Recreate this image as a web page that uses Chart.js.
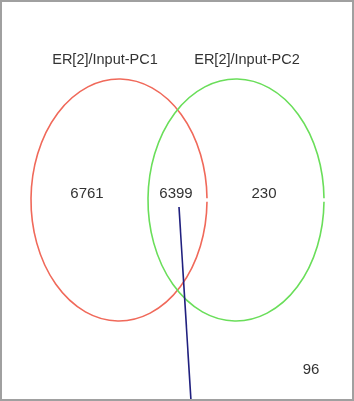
<!DOCTYPE html>
<html>
<head>
<meta charset="utf-8">
<script src="https://cdn.jsdelivr.net/npm/chart.js@4"></script>
<style>
  html, body { margin: 0; padding: 0; background: #fff; }
  #wrap { width: 354px; height: 401px; position: relative; }
  #venn { display: block; }
</style>
</head>
<body>
<div id="wrap"><canvas id="venn" width="354" height="401"></canvas></div>
<script>
// sets and counts
const setNames = ['ER[2]/Input-PC1', 'ER[2]/Input-PC2']
const regionLabels = ['only PC1', 'both', 'only PC2']
const regionCounts = [6761, 6399, 230]
const outsideCount = 96
const setColors = ['#f0695a', '#6ade5a']

// stray pointer line seen in the picture (in plot units)
const pointerX = [179, 191]
const pointerY = [207, 401]

// ellipse geometry (plot units, 0..354 by 0..401)
const ellipses = [
    { cx: 119, cy: 200, rx: 88, ry: 121 },
    { cx: 236, cy: 200, rx: 88, ry: 121 }
]
const labelPos = [{ x: 105, y: 60 }, { x: 247, y: 60 }]
const countPos = [{ x: 87, y: 194 }, { x: 176, y: 194 }, { x: 264, y: 194 }]
const outsidePos = { x: 311, y: 370 }

const LABEL_FONT = '14.5px "Liberation Sans", Arial, sans-serif'
const COUNT_FONT = '15px "Liberation Sans", Arial, sans-serif'

const vennPlugin = {
    id: 'venn',
    beforeDatasetsDraw(chart) {
        const c = chart.ctx
        const xs = chart.scales.x
        const ys = chart.scales.y
        const px = v => xs.getPixelForValue(v)
        const py = v => ys.getPixelForValue(v)
        c.save()
        ellipses.forEach((e, i) => {
            const rx = Math.abs(px(e.cx + e.rx) - px(e.cx))
            const ry = Math.abs(py(e.cy + e.ry) - py(e.cy))
            c.beginPath()
            // start a little past the right point to leave the tiny gap
            c.ellipse(px(e.cx), py(e.cy), rx, ry, 0, 0.015, Math.PI * 2 - 0.015)
            c.strokeStyle = setColors[i]
            c.lineWidth = 1.6
            c.stroke()
        })
        c.fillStyle = '#333'
        c.textAlign = 'center'
        c.textBaseline = 'middle'
        c.font = LABEL_FONT
        setNames.forEach((n, i) => c.fillText(n, px(labelPos[i].x), py(labelPos[i].y)))
        c.font = COUNT_FONT
        regionCounts.forEach((v, i) => c.fillText(String(v), px(countPos[i].x), py(countPos[i].y)))
        c.fillText(String(outsideCount), px(outsidePos.x), py(outsidePos.y))
        c.restore()
    },
    afterDraw(chart) {
        const c = chart.ctx
        c.save()
        c.strokeStyle = '#a0a0a0'
        c.lineWidth = 2
        c.strokeRect(1, 1, chart.width - 2, chart.height - 2)
        c.restore()
    }
}

new Chart(document.getElementById('venn'), {
    type: 'scatter',
    data: {
        datasets: [
            {
                label: 'pointer',
                data: pointerX.map((x, i) => ({ x: x, y: pointerY[i] })),
                showLine: true,
                borderColor: '#20207f',
                borderWidth: 1.6,
                pointRadius: 0
            }
        ]
    },
    options: {
        responsive: false,
        maintainAspectRatio: false,
        animation: false,
        devicePixelRatio: 1,
        layout: { padding: 0 },
        plugins: {
            legend: { display: false },
            tooltip: { enabled: false }
        },
        scales: {
            x: { type: 'linear', min: 0, max: 354, display: false },
            y: { type: 'linear', min: 0, max: 401, reverse: true, display: false }
        }
    },
    plugins: [vennPlugin]
})
</script>
</body>
</html>
